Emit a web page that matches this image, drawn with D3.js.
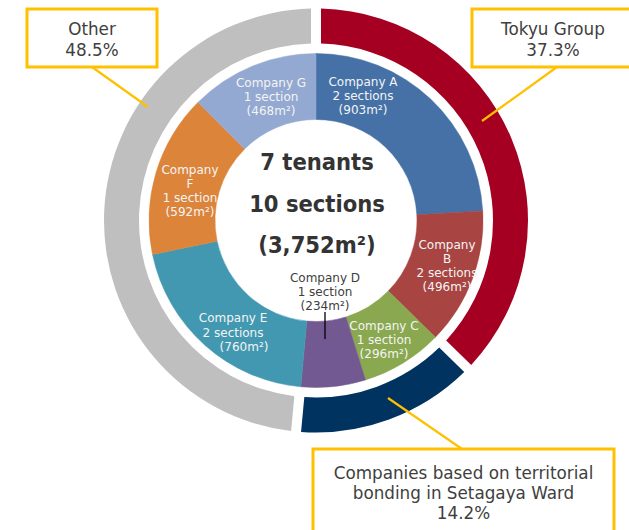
<!DOCTYPE html>
<html>
<head>
<meta charset="utf-8">
<script src="https://cdn.jsdelivr.net/npm/d3@7"></script>
<style>
  html, body { margin: 0; padding: 0; background: #ffffff; }
  svg { display: block; }
</style>
</head>
<body>
<svg id="chart" width="629" height="530"></svg>
<script>
// ---- data ----
const tenants = ["Company A", "Company B", "Company C", "Company D", "Company E", "Company F", "Company G"];
const sectionCounts = [2, 2, 1, 1, 2, 1, 1];
const areas = [903, 496, 296, 234, 760, 592, 468];
const groups = ["Tokyu Group", "Companies based on territorial bonding in Setagaya Ward", "Other"];
const groupShares = [37.3, 14.2, 48.5];
const centerLines = ["7 tenants", "10 sections", "(3,752m²)"];

// ---- style / layout config ----
const tenantColors = ["#4571a6", "#a84441", "#8aa84f", "#735991", "#4298b0", "#dd843b", "#93a9d1"];
const groupColors = ["#a50021", "#00335f", "#bfbfbf"];
const W = 629, H = 530, cx = 316, cy = 220.5;

const svg = d3.select("#chart");
const g = svg.append("g").attr("transform", `translate(${cx},${cy})`);

// inner ring
const innerPie = d3.pie().sort(null).value(d => d)(areas);
const innerArc = d3.arc().innerRadius(101).outerRadius(167);
g.selectAll("path.inner").data(innerPie).join("path")
  .attr("class", "inner")
  .attr("d", innerArc)
  .attr("fill", (d, i) => tenantColors[i])
  .attr("stroke", (d, i) => tenantColors[i])
  .attr("stroke-width", 0.5);

// outer ring
const outerPie = d3.pie().sort(null).value(d => d)(groupShares);
const outerArc = d3.arc().innerRadius(177).outerRadius(212).padRadius(100).padAngle(0.1);
g.selectAll("path.outer").data(outerPie).join("path")
  .attr("class", "outer")
  .attr("d", outerArc)
  .attr("fill", (d, i) => groupColors[i]);

// tenant labels
const labelFont = "'DejaVu Sans', sans-serif";
const labelLayout = [
  { dx: 47, dy: -139, split: false, step: 14.2, color: "#f4f4f4" },
  { dx: 131, dy: 24.5, split: true, step: 13.9, color: "#f4f4f4" },
  { dx: 68, dy: 105.5, split: false, step: 14, color: "#f4f4f4" },
  { dx: 9, dy: 57, split: false, step: 14, color: "#404040" },
  { dx: -83, dy: 97.5, split: false, step: 14.3, color: "#f4f4f4", shift: [0, 0, 11] },
  { dx: -126, dy: -50.5, split: true, step: 14, color: "#f4f4f4" },
  { dx: -45, dy: -138, split: false, step: 14, color: "#f4f4f4" }
];
tenants.forEach((name, i) => {
  const L = labelLayout[i];
  const nameLines = L.split ? name.split(" ") : [name];
  const lines = nameLines.concat([
    sectionCounts[i] + (sectionCounts[i] > 1 ? " sections" : " section"),
    "(" + d3.format(",")(areas[i]) + "m²)"
  ]);
  const t = g.append("text")
    .attr("font-family", labelFont)
    .attr("font-size", 12)
    .attr("fill", L.color)
    .attr("text-anchor", "middle");
  lines.forEach((ln, k) => {
    t.append("tspan")
      .attr("x", L.dx + (L.shift ? L.shift[k] : 0))
      .attr("y", L.dy + k * L.step)
      .attr("dy", "0.35em")
      .text(ln);
  });
});
// leader for Company D
g.append("line")
  .attr("x1", 9).attr("x2", 9)
  .attr("y1", 91.5).attr("y2", 118.5)
  .attr("stroke", "#000").attr("stroke-width", 1.3);

// center text
const centerY = [-58.5, -16.5, 24.5];
centerLines.forEach((ln, k) => {
  g.append("text")
    .attr("x", 1).attr("y", centerY[k]).attr("dy", "0.35em")
    .attr("text-anchor", "middle")
    .attr("font-family", "'DejaVu Sans Condensed', 'DejaVu Sans', sans-serif")
    .attr("font-weight", "bold")
    .attr("font-size", 23.5)
    .attr("fill", "#333333")
    .text(ln);
});

// callouts
const gold = "#ffc000";
const callouts = [
  { lines: [groups[2], groupShares[2].toFixed(1) + "%"], box: [27, 9, 130, 58], tx: 92, ty: 29.3, step: 21, lead: [92, 67, 148, 107] },
  { lines: [groups[0], groupShares[0].toFixed(1) + "%"], box: [472, 9, 162, 58], tx: 553, ty: 29.3, step: 21, lead: [557, 67, 482, 121] },
  { lines: ["Companies based on territorial", "bonding in Setagaya Ward", groupShares[1].toFixed(1) + "%"], box: [313, 449, 301, 95], tx: 463.5, ty: 473, step: 20.2, lead: [462, 449, 388, 398] }
];
callouts.forEach(c => {
  svg.append("line")
    .attr("x1", c.lead[0]).attr("y1", c.lead[1])
    .attr("x2", c.lead[2]).attr("y2", c.lead[3])
    .attr("stroke", gold).attr("stroke-width", 2.2);
  svg.append("rect")
    .attr("x", c.box[0]).attr("y", c.box[1])
    .attr("width", c.box[2]).attr("height", c.box[3])
    .attr("fill", "#ffffff")
    .attr("stroke", gold).attr("stroke-width", 3);
  const t = svg.append("text")
    .attr("text-anchor", "middle")
    .attr("font-family", "'DejaVu Sans', sans-serif")
    .attr("font-size", 16.8)
    .attr("fill", "#404040");
  c.lines.forEach((ln, k) => {
    t.append("tspan").attr("x", c.tx).attr("y", c.ty + k * c.step).attr("dy", "0.35em").text(ln);
  });
});
</script>
</body>
</html>
